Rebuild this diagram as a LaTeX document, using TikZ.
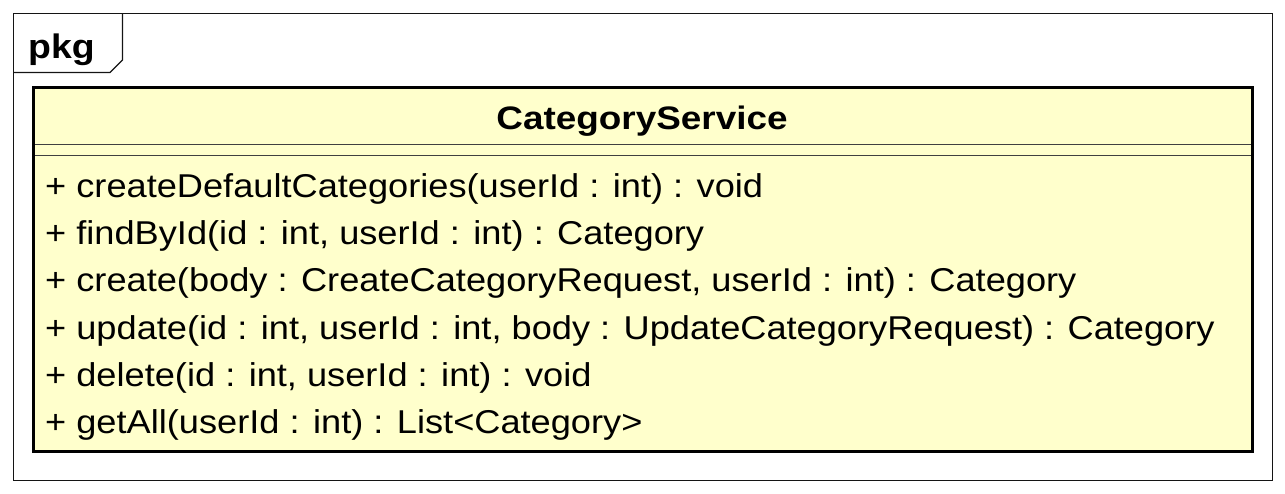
\documentclass[tikz,border=0pt]{standalone}
\usepackage{fontspec}
\setmainfont{Liberation Sans}
\newfontfamily\pkgfont[FakeStretch=1.10]{Liberation Sans}
\newfontfamily\titlefont[FakeStretch=1.135]{Liberation Sans}
\newfontfamily\opfont[FakeStretch=1.097]{Liberation Sans}
\definecolor{classfill}{RGB}{255,255,204}
\definecolor{framecol}{RGB}{20,20,20}
\tikzset{
  pkgframe/.style={draw=framecol, line width=1.1pt},
  classbox/.style={draw=black, line width=3pt, fill=classfill},
  sepline/.style={draw=black!75, line width=1.1pt},
  pkglabel/.style={anchor=base west, inner sep=0pt, font=\pkgfont\fontsize{34}{40}\selectfont\bfseries},
  classtitle/.style={anchor=base, inner sep=0pt, font=\titlefont\fontsize{32.5}{38}\selectfont\bfseries},
  operation/.style={anchor=base west, inner sep=0pt, font=\opfont\fontsize{33}{38}\selectfont},
}
\begin{document}
\begin{tikzpicture}[x=1pt, y=-1pt]
\useasboundingbox (0,0) rectangle (1285,493);
% package frame with name tab
\draw[pkgframe] (13.5,13.5) rectangle (1272.5,480.5);
\draw[pkgframe] (13.5,72.5) -- (110,72.5) -- (122.5,60) -- (122.5,13.5);
\node[pkglabel] (pkg) at (28,58) {pkg};
% class box
\draw[classbox] (33.5,87.5) rectangle (1252.5,451.5);
\node[classtitle] (title) at (642,129.5) {CategoryService};
\draw[sepline] (35,144.5) -- (1251,144.5);
\draw[sepline] (35,155.5) -- (1251,155.5);
% operations
\node[operation] (op1) at (45,197.5) {+ createDefaultCategories(userId : int) : void};
\node[operation] (op2) at (45,244.7) {+ findById(id : int, userId : int) : Category};
\node[operation] (op3) at (45,291.9) {+ create(body : CreateCategoryRequest, userId : int) : Category};
\node[operation] (op4) at (45,339.1) {+ update(id : int, userId : int, body : UpdateCategoryRequest) : Category};
\node[operation] (op5) at (45,386.3) {+ delete(id : int, userId : int) : void};
\node[operation] (op6) at (45,433.5) {+ getAll(userId : int) : List<Category>};
\end{tikzpicture}
\end{document}
